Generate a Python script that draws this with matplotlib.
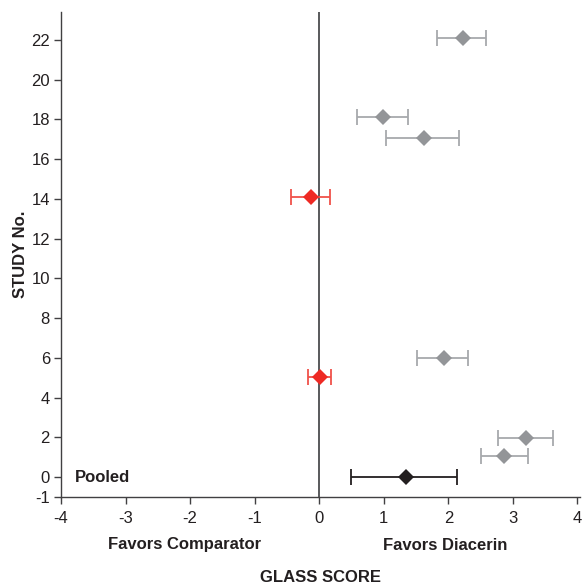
import matplotlib.pyplot as plt

# valori
studii = [22.1, 18.1, 17.05, 14.1, 5.97, 5.05, 1.95, 1.05, 0.0]
scor = [2.22, 0.99, 1.62, -0.13, 1.93, 0.01, 3.20, 2.87, 1.34]
ci_jos = [1.83, 0.58, 1.03, -0.43, 1.51, -0.18, 2.77, 2.50, 0.50]
ci_sus = [2.59, 1.37, 2.17, 0.16, 2.30, 0.19, 3.62, 3.23, 2.14]
tip = ['gri', 'gri', 'gri', 'rosu', 'gri', 'rosu', 'gri', 'gri', 'negru']

culori = {
    'gri': ('#939598', '#a7a9ac'),
    'rosu': ('#ee2a24', '#f0524a'),
    'negru': ('#231f20', '#231f20'),
}

plt.rcParams['font.family'] = ['Liberation Sans', 'DejaVu Sans']
plt.rcParams['axes.unicode_minus'] = False

fig = plt.figure(figsize=(5.82, 5.85), dpi=100)
ax = fig.add_axes([61 / 582, 88 / 585, 519 / 582, 485 / 585])

ax.axvline(0, color='#58595b', linewidth=1.4, zorder=1)

for y, x, lo, hi, t in zip(studii, scor, ci_jos, ci_sus, tip):
    c_mark, c_bar = culori[t]
    ax.errorbar(x, y, xerr=[[x - lo], [hi - x]], fmt='none', ecolor=c_bar,
                elinewidth=1.3, capsize=5.5, capthick=1.3, zorder=2)
    ax.plot(x, y, marker='D', markersize=8, color=c_mark,
            markeredgewidth=0, linestyle='none', zorder=3)

ax.set_xlim(-4, 4.04)
ax.set_ylim(-1, 23.4)
ax.set_xticks(range(-4, 5))
ax.set_yticks([-1] + list(range(0, 23, 2)))
ax.tick_params(labelsize=12, length=5, width=1, pad=3, color='#414042', labelcolor='#231f20')
ax.tick_params(axis='x', pad=5)

for s in ['top', 'right']:
    ax.spines[s].set_visible(False)
for s in ['left', 'bottom']:
    ax.spines[s].set_color('#414042')
    ax.spines[s].set_linewidth(1)

ax.text(-3.78, 0, 'Pooled', fontsize=12, fontweight='bold', va='center', ha='left', color='#231f20')
ax.set_ylabel('STUDY No.', fontsize=12, fontweight='bold', color='#231f20', labelpad=2)

fig.text(185 / 582, 1 - 545 / 585, 'Favors Comparator', fontsize=12, fontweight='bold',
         ha='center', va='center', color='#231f20')
fig.text(445 / 582, 1 - 545 / 585, 'Favors Diacerin', fontsize=12, fontweight='bold',
         ha='center', va='center', color='#231f20')
fig.text(320 / 582, 1 - 577 / 585, 'GLASS SCORE', fontsize=12, fontweight='bold',
         ha='center', va='center', color='#231f20')

fig.savefig('out.png', dpi=100)
